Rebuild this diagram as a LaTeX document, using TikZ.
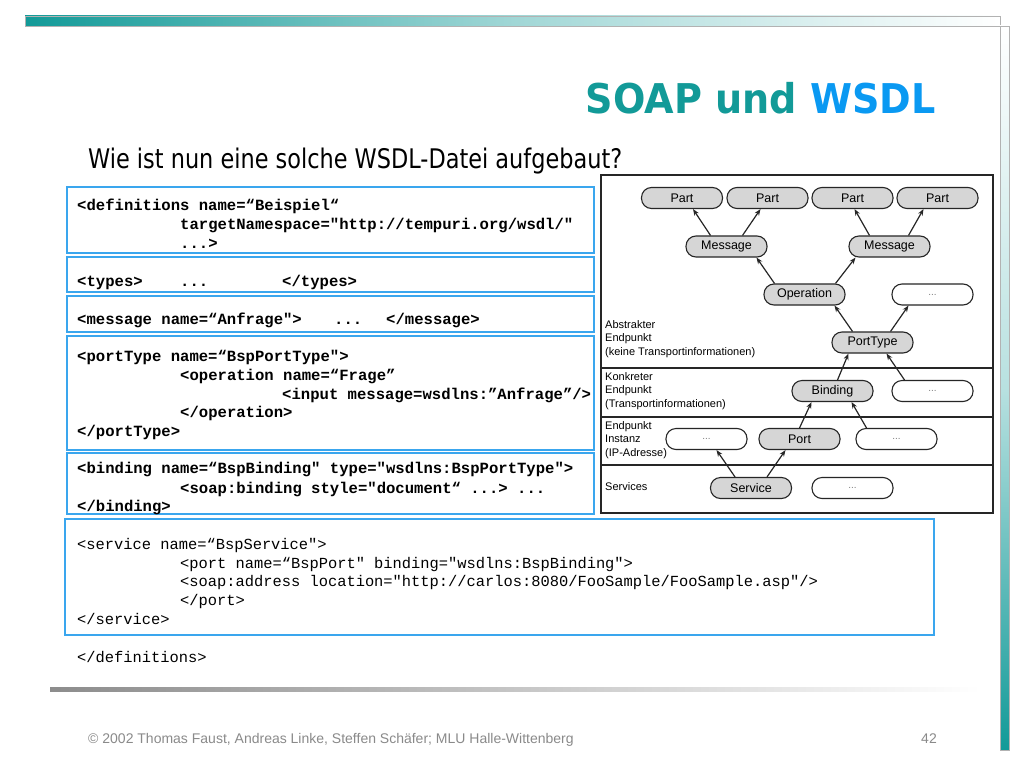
\documentclass[tikz,border=0pt]{standalone}
\usepackage{fontspec}
\setmainfont{Liberation Sans}
\newfontfamily\titlefont{DejaVu Sans}
\newfontfamily\codefont{Liberation Mono}
\usetikzlibrary{arrows.meta}
\definecolor{tealA}{HTML}{129A98}
\definecolor{wsdlblue}{HTML}{0A99F2}
\definecolor{boxblue}{HTML}{3AA6EE}
\definecolor{nodegray}{HTML}{D6D6D6}
\definecolor{footgray}{HTML}{8A8A8A}
\begin{document}
\begin{tikzpicture}[x=1pt,y=-1pt,
 code/.style={anchor=base west, inner sep=0pt, font=\codefont\bfseries\fontsize{15.6}{19}\selectfont},
 scode/.style={anchor=base west, inner sep=0pt, font=\codefont\fontsize{15.4}{19}\selectfont},
 codebox/.style={draw=boxblue, line width=1.6pt},
 el/.style={draw=black!85, line width=1.1pt, fill=nodegray, rounded corners=10pt, minimum width=81pt, minimum height=21pt, inner sep=0pt, font=\fontsize{12.5}{12.5}\selectfont},
 elw/.style={el, fill=white, text=gray, font=\fontsize{10}{10}\selectfont},
 lbl/.style={anchor=north west, inner sep=0pt, font=\fontsize{11}{13.5}\selectfont, align=left},
 arr/.style={-{Stealth[length=6.5pt,width=5pt]}, line width=1.2pt, black!85}
]
\useasboundingbox (0,0) rectangle (1024,768);
\fill[white] (0,0) rectangle (1024,768);

% slide decoration
\shade[left color=tealA, right color=white, middle color=tealA!40] (25,16) rectangle (1000,26);
\draw[gray!60, line width=0.6pt] (25,16) rectangle (1000,26);
\shade[top color=white, bottom color=tealA, middle color=tealA!30] (1000,26) rectangle (1009,750);
\draw[gray!60, line width=0.6pt] (1000,26) rectangle (1009,750);
\shade[left color=gray!90, right color=white] (50,687) rectangle (980,691);

% title
\node[anchor=base east, inner sep=0pt] (title) at (936,113)
  {\scalebox{0.93}[1]{\titlefont\bfseries\fontsize{41}{41}\selectfont\color{tealA}SOAP und \color{wsdlblue}WSDL}};
\node[anchor=base west, inner sep=0pt] (sub) at (88,168)
  {\scalebox{0.83}[1]{\titlefont\fontsize{27}{27}\selectfont Wie ist nun eine solche WSDL-Datei aufgebaut?}};

% code boxes
\draw[codebox] (67,187) rectangle (594,253);
\draw[codebox] (67,257) rectangle (594,292);
\draw[codebox] (67,296) rectangle (594,332);
\draw[codebox] (67,336) rectangle (594,450);
\draw[codebox] (67,453) rectangle (594,514);
\draw[codebox] (65,519) rectangle (934,635);

\node[code] (c1) at (77,210) {<definitions name=“Beispiel“};
\node[code] (c2) at (180,229) {targetNamespace="http://tempuri.org/wsdl/"};
\node[code] (c3) at (180,248) {...>};
\node[code] (c4) at (77,286) {<types>};
\node[code] (c5) at (180,286) {...};
\node[code] (c6) at (282,286) {</types>};
\node[code] (c7) at (77,324) {<message name=“Anfrage">};
\node[code] (c8) at (334,324) {...};
\node[code] (c9) at (386,324) {</message>};
\node[code] (c10) at (77,361) {<portType name=“BspPortType">};
\node[code] (c11) at (180,380) {<operation name=“Frage”};
\node[code] (c12) at (282,399) {<input message=wsdlns:”Anfrage”/>};
\node[code] (c13) at (180,417) {</operation>};
\node[code] (c14) at (77,436) {</portType>};
\node[code] (c15) at (77,473) {<binding name=“BspBinding" type="wsdlns:BspPortType">};
\node[code] (c16) at (180,493) {<soap:binding style="document“ ...> ...};
\node[code] (c17) at (77,511) {</binding>};

\node[scode] (s1) at (77,549) {<service name=“BspService">};
\node[scode] (s2) at (180,568) {<port name=“BspPort" binding="wsdlns:BspBinding">};
\node[scode] (s3) at (180,586) {<soap:address location="http://carlos:8080/FooSample/FooSample.asp"/>};
\node[scode] (s4) at (180,605) {</port>};
\node[scode] (s5) at (77,624) {</service>};
\node[scode] (s6) at (77,662) {</definitions>};

% WSDL structure diagram
\draw[line width=1.6pt, black!85] (601,175) rectangle (993,513);
\draw[line width=1.3pt, black!85] (601,368) -- (993,368);
\draw[line width=1.3pt, black!85] (601,417) -- (993,417);
\draw[line width=1.3pt, black!85] (601,465) -- (993,465);

\node[lbl] (l1) at (605,320) {Abstrakter\\Endpunkt\\(keine Transportinformationen)};
\node[lbl] (l2) at (605,372) {Konkreter\\Endpunkt\\(Transportinformationen)};
\node[lbl] (l3) at (605,421) {Endpunkt\\Instanz\\(IP-Adresse)};
\node[lbl] (l4) at (605,482) {Services};

\node[el] (p1) at (682,198) {Part};
\node[el] (p2) at (767.5,198) {Part};
\node[el] (p3) at (852.5,198) {Part};
\node[el] (p4) at (937.5,198) {Part};
\node[el] (m1) at (726.5,246.5) {Message};
\node[el] (m2) at (889.5,246.5) {Message};
\node[el] (op) at (804.5,294.5) {Operation};
\node[elw] (d1) at (932.5,294.5) {...};
\node[el] (pt) at (872.5,342.5) {PortType};
\node[el] (bi) at (832.5,391) {Binding};
\node[elw] (d2) at (932.5,391) {...};
\node[elw] (d3) at (706.5,439) {...};
\node[el] (po) at (799.5,439) {Port};
\node[elw] (d4) at (896.5,439) {...};
\node[el] (se) at (751,488) {Service};
\node[elw] (d5) at (852.5,488) {...};

\draw[arr] ([xshift=-16pt]m1.north) -- ([xshift=11pt]p1.south);
\draw[arr] ([xshift=16pt]m1.north) -- ([xshift=-7pt]p2.south);
\draw[arr] ([xshift=-20pt]m2.north) -- ([xshift=2pt]p3.south);
\draw[arr] ([xshift=19pt]m2.north) -- ([xshift=-14pt]p4.south);
\draw[arr] ([xshift=-30pt]op.north) -- ([xshift=30pt]m1.south);
\draw[arr] ([xshift=31pt]op.north) -- ([xshift=-34pt]m2.south);
\draw[arr] ([xshift=-20pt]pt.north) -- ([xshift=30pt]op.south);
\draw[arr] ([xshift=18pt]pt.north) -- ([xshift=-24pt]d1.south);
\draw[arr] ([xshift=5pt]bi.north) -- ([xshift=-24pt]pt.south);
\draw[arr] ([xshift=-28pt]d2.north) -- ([xshift=14pt]pt.south);
\draw[arr] ([xshift=0pt]po.north) -- ([xshift=-21pt]bi.south);
\draw[arr] ([xshift=-30pt]d4.north) -- ([xshift=19pt]bi.south);
\draw[arr] ([xshift=-16pt]se.north) -- ([xshift=10pt]d3.south);
\draw[arr] ([xshift=16pt]se.north) -- ([xshift=-14pt]po.south);

% footer
\node[anchor=base west, inner sep=0pt, text=footgray, font=\fontsize{14}{14}\selectfont] (foot) at (88,743)
  {© 2002 Thomas Faust, Andreas Linke, Steffen Schäfer; MLU Halle-Wittenberg};
\node[anchor=base east, inner sep=0pt, text=footgray, font=\fontsize{14}{14}\selectfont] (pg) at (937,743) {42};
\end{tikzpicture}
\end{document}
